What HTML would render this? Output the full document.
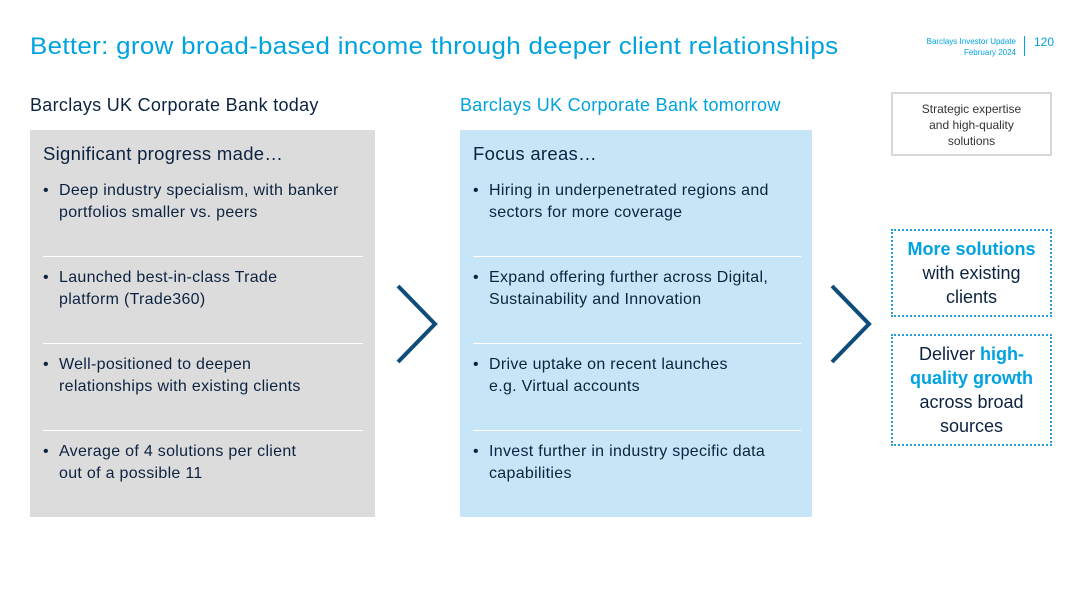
<!DOCTYPE html>
<html><head><meta charset="utf-8"><style>
*{margin:0;padding:0;box-sizing:border-box}
body{width:1080px;height:607px;background:#fff;position:relative;overflow:hidden;font-family:"Liberation Sans",sans-serif;color:#0c2340}
.abs{position:absolute}
.title{left:30px;top:33px;font-size:24px;letter-spacing:0.3px;transform-origin:left top;transform:scaleX(1.08);color:#00a3e0;white-space:nowrap}
.sub{font-size:18px;letter-spacing:0.3px;top:95px;white-space:nowrap}
.box{top:130px;height:387px}
.bh{position:absolute;left:13px;top:13px;font-size:18.5px;letter-spacing:0.3px}
.item{position:absolute;left:13px;width:340px;font-size:16px;letter-spacing:0.3px;line-height:22px;padding-left:16px;white-space:nowrap}
.item:before{content:"•";position:absolute;left:0}
.div{position:absolute;left:13px;width:320px;height:1px;background:#fff}
.rb{left:891px;width:161px;text-align:center}
.dot{border:2.5px dotted #2a9fd6;font-size:18px;line-height:24px;padding-top:6px}
.hl{color:#00a3e0;font-weight:bold}
</style></head><body>
<div class="abs title">Better: grow broad-based income through deeper client relationships</div>
<div class="abs" style="left:900px;top:36px;width:116px;text-align:right;font-size:8px;line-height:11px;color:#00a3e0">Barclays Investor Update<br>February 2024</div>
<div class="abs" style="left:1024px;top:36px;width:1px;height:20px;background:#00a3e0"></div>
<div class="abs" style="left:1034px;top:35px;font-size:12px;color:#00a3e0">120</div>

<div class="abs sub" style="left:30px">Barclays UK Corporate Bank today</div>
<div class="abs sub" style="left:460px;color:#00a3e0">Barclays UK Corporate Bank tomorrow</div>

<div class="abs box" style="left:30px;width:345px;background:#dcdcdc">
<div class="bh">Significant progress made…</div>
<div class="item" style="top:50px">Deep industry specialism, with banker<br>portfolios smaller vs. peers</div>
<div class="div" style="top:126px"></div>
<div class="item" style="top:137px">Launched best-in-class Trade<br>platform (Trade360)</div>
<div class="div" style="top:213px"></div>
<div class="item" style="top:224px">Well-positioned to deepen<br>relationships with existing clients</div>
<div class="div" style="top:300px"></div>
<div class="item" style="top:311px">Average of 4 solutions per client<br>out of a possible 11</div>
</div>

<svg class="abs" style="left:394px;top:283px" width="46" height="82"><polyline points="4,3 41,41 4,79" fill="none" stroke="#0e4c7a" stroke-width="4"/></svg>

<div class="abs box" style="left:460px;width:352px;background:#c6e5f7">
<div class="bh">Focus areas…</div>
<div class="item" style="top:50px">Hiring in underpenetrated regions and<br>sectors for more coverage</div>
<div class="div" style="top:126px;width:328px"></div>
<div class="item" style="top:137px">Expand offering further across Digital,<br>Sustainability and Innovation</div>
<div class="div" style="top:213px;width:328px"></div>
<div class="item" style="top:224px">Drive uptake on recent launches<br>e.g. Virtual accounts</div>
<div class="div" style="top:300px;width:328px"></div>
<div class="item" style="top:311px">Invest further in industry specific data<br>capabilities</div>
</div>

<svg class="abs" style="left:828px;top:283px" width="46" height="82"><polyline points="4,3 41,41 4,79" fill="none" stroke="#0e4c7a" stroke-width="4"/></svg>

<div class="abs rb" style="top:92px;height:64px;border:2px solid #d8d8d8;font-size:12px;line-height:16px;padding-top:7px;color:#333">Strategic expertise<br>and high-quality<br>solutions</div>
<div class="abs rb dot" style="top:229px;height:88px"><span class="hl">More solutions</span><br>with existing<br>clients</div>
<div class="abs rb dot" style="top:334px;height:112px">Deliver <span class="hl">high-<br>quality growth</span><br>across broad<br>sources</div>
</body></html>
